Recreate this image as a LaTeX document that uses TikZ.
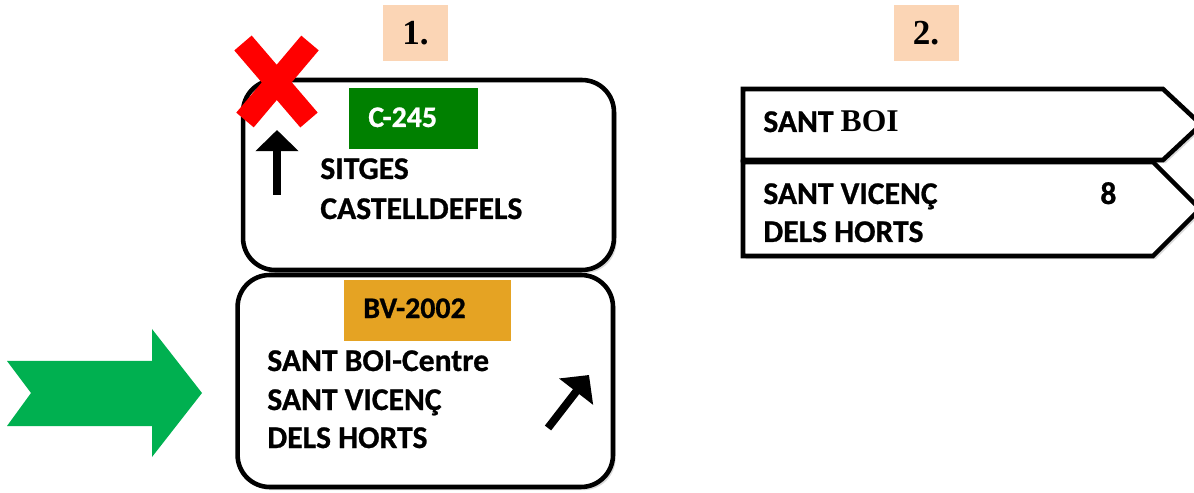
\documentclass[tikz,border=0pt]{standalone}
\usepackage{fontspec}
\setmainfont{Carlito}[BoldFeatures={FakeBold=0.8}]
\newfontfamily\numfont{Liberation Serif}
\usetikzlibrary{arrows.meta,shadows}

\definecolor{peach}{HTML}{FBD5B5}
\definecolor{roadgreen}{HTML}{008000}
\definecolor{roadorange}{HTML}{E5A323}
\definecolor{arrowgreen}{HTML}{00B050}

\begin{document}
\begin{tikzpicture}[x=0.02cm, y=-0.02cm,
        sign/.style = {draw, line width=2.6pt, rounded corners=0.64cm, fill=white,
            drop shadow={opacity=0.3, shadow xshift=1.5pt, shadow yshift=-1.8pt}},
        numbox/.style = {fill=peach, minimum width=1.3cm, minimum height=1.12cm,
            font=\numfont\bfseries\fontsize{20}{22}\selectfont},
        txt/.style = {anchor=base west, inner sep=0, font=\bfseries\fontsize{18}{20}\selectfont},
        road/.style = {anchor=base west, inner sep=0, font=\bfseries\fontsize{17}{19}\selectfont},
        sym/.style = {line width=4.5pt, -{Triangle[width=23.8pt, length=12pt]}}]
        \useasboundingbox (0,0) rectangle (1194,493);

        \node[numbox] (n1) at (415.5,33) {1.};
        \node[numbox] (n2) at (926,33) {2.};

        % sign 1
        \node[sign, minimum width=7.42cm, minimum height=3.8cm] (top) at (428.5,175) {};
        \node[sign, minimum width=7.51cm, minimum height=4.24cm] (bottom) at (425.3,381) {};

        \fill[roadgreen] (349,88) rectangle (478,149);
        \node[road, text=white] (c245) at (368,127) {C-245};
        \node[txt] (sitges) at (320,179) {SITGES};
        \node[txt] (castell) at (320,219) {CASTELLDEFELS};

        \fill[roadorange] (344,280) rectangle (511,341);
        \node[road] (bv) at (363,318) {BV-2002};
        \node[txt] (boi) at (267,371) {SANT BOI-Centre};
        \node[txt] (vicenc) at (267,410) {SANT VICENÇ};
        \node[txt] (horts) at (267,448) {DELS HORTS};

        \coordinate (upA) at (277,195);
        \coordinate (upB) at (277,130);
        \draw[sym] (upA) -- (upB);
        \coordinate (diagA) at (548,428);
        \coordinate (diagB) at (589,375);
        \draw[sym] (diagA) -- (diagB);

        \draw[red, line width=13pt] (243,43) -- (309,120) (310,43) -- (245,120);

        \fill[arrowgreen] (7,361) -- (152,361) -- (152,329) -- (202,393) -- (152,457)
            -- (152,426) -- (7,426) -- (31,393) -- cycle;

        % sign 2
        \draw[line width=2.6pt, fill=white, drop shadow={opacity=0.3, shadow xshift=1.5pt, shadow yshift=-1.8pt}]
            (743,89) -- (1163,89) -- (1201,124.5) -- (1163,160) -- (743,160) -- cycle;
        \draw[line width=2.6pt, fill=white, drop shadow={opacity=0.3, shadow xshift=1.5pt, shadow yshift=-1.8pt}]
            (743,162) -- (1153,162) -- (1200,209) -- (1153,256) -- (743,256) -- cycle;
        \node[txt] (boi2) at (763,132) {SANT {\numfont BOI}};
        \node[txt] (vicenc2) at (763,204) {SANT VICENÇ};
        \node[txt] (km) at (1100,204) {8};
        \node[txt] (horts2) at (763,242) {DELS HORTS};
    \end{tikzpicture}
\end{document}
